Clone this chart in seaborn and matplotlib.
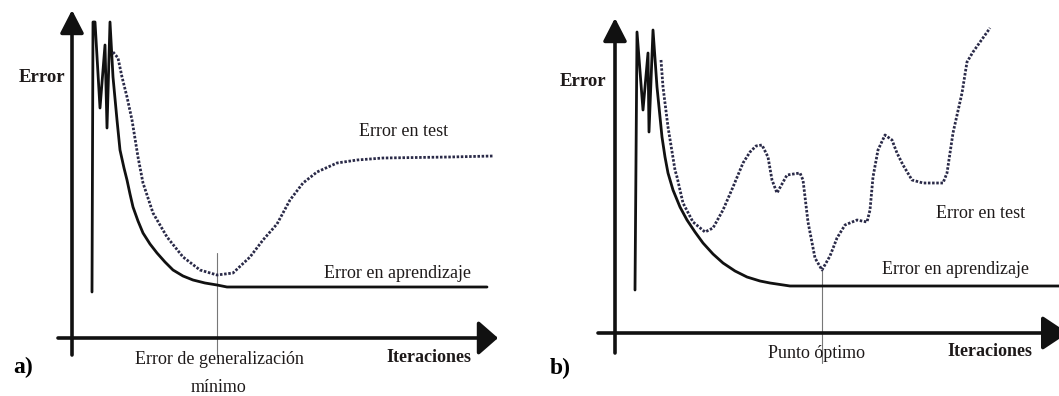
import matplotlib
matplotlib.use("Agg")
import matplotlib.pyplot as plt
import pandas as pd
import seaborn as sns

sns.set_theme(style="white")
plt.rcParams["font.family"] = ["Liberation Serif", "DejaVu Serif"]

# ---------------- panel a: training vs test error, classic overfitting ----------------
a_train_iter = [20, 21, 23, 28, 33, 35, 38, 41, 45, 48, 52, 55, 58, 61, 66, 71, 78, 85, 93,
                101, 111, 121, 133, 145, 155, 415]
a_train_err = [46, 316, 316, 230, 293, 210, 316, 261, 218, 188, 170, 158, 144, 131, 117, 105,
               94, 85, 76, 68, 62, 58, 55, 53, 51, 51]

a_test_iter = [41, 46, 50, 55, 60, 66, 71, 81, 95, 111, 128, 145, 161, 178, 191, 205,
               218, 231, 245, 265, 285, 311, 378, 421]
a_test_err = [286, 280, 261, 241, 218, 181, 155, 125, 101, 81, 68, 63, 65, 81, 98, 114,
              138, 155, 166, 175, 178, 180, 181, 182]

a_best_iter = 145

# ---------------- panel b: noisy test error with an optimal stopping point ----------------
b_train_iter = [20, 22, 28, 33, 34, 38, 42, 47, 50, 53, 58, 65, 72, 80, 88, 98, 108, 120,
                132, 145, 155, 175, 444]
b_train_err = [43, 301, 223, 280, 201, 303, 246, 196, 176, 160, 143, 126, 113, 101, 90, 79,
               70, 62, 56, 52, 50, 47, 47]

b_test_iter = [46, 48, 53, 60, 62, 68, 78, 90, 98, 108, 118, 128, 135, 141, 147, 153, 157,
               162, 167, 172, 185, 188, 193, 200, 207, 215, 222, 230, 242, 252, 255, 258,
               263, 270, 277, 282, 288, 297, 308, 328, 332, 338, 347, 352, 358, 375]
b_test_err = [273, 246, 206, 163, 156, 130, 111, 101, 105, 123, 146, 170, 181, 187, 188,
              176, 153, 140, 149, 158, 160, 153, 111, 75, 63, 77, 95, 108, 113, 111, 123,
              156, 183, 198, 193, 180, 168, 153, 150, 150, 160, 200, 240, 271, 281, 305]

b_best_iter = 207

W, H = 1059, 396
fig = plt.figure(figsize=(W / 100, H / 100), dpi=100)
fig.patch.set_facecolor("white")

ink = "#111111"
dots = "#2a2a48"
txt = "#1e1a1a"


def panel(ax, xlim, ylim, train_x, train_y, test_x, test_y, best_x, best_top, best_bottom,
          yaxis, xaxis, yhead, xhead):
    ax.set_xlim(*xlim)
    ax.set_ylim(*ylim)
    ax.axis("off")

    train = pd.DataFrame({"iteraciones": train_x, "error": train_y})
    test = pd.DataFrame({"iteraciones": test_x, "error": test_y})
    sns.lineplot(data=train, x="iteraciones", y="error", ax=ax, sort=False, estimator=None,
                 color=ink, lw=2.0, zorder=4, solid_joinstyle="round", solid_capstyle="round")
    sns.lineplot(data=test, x="iteraciones", y="error", ax=ax, sort=False, estimator=None,
                 color=dots, lw=2.0, linestyle=(0, (0.9, 0.6)), zorder=4,
                 dash_joinstyle="round")

    # thin marker at the minimum of the test error
    ax.plot([best_x, best_x], [best_top, best_bottom], color="#777777", lw=0.8, zorder=3)

    # axes drawn as arrows
    (y0, y1), (x0, x1) = yaxis, xaxis
    ax.annotate("", xy=(0, y1), xytext=(0, y0),
                arrowprops=dict(arrowstyle=f"-|>,head_length={yhead[0]},head_width={yhead[1]}",
                                color=ink, lw=2.6, shrinkA=0, shrinkB=0, mutation_scale=10),
                annotation_clip=False, zorder=5)
    ax.annotate("", xy=(x1, 0), xytext=(x0, 0),
                arrowprops=dict(arrowstyle=f"-|>,head_length={xhead[0]},head_width={xhead[1]}",
                                color=ink, lw=2.6, shrinkA=0, shrinkB=0, mutation_scale=10),
                annotation_clip=False, zorder=5)


ax_a = fig.add_axes([0, 0, 530 / W, 1])
panel(ax_a, (-72, 458), (-58, 338), a_train_iter, a_train_err, a_test_iter, a_test_err,
      a_best_iter, 85, -19, (-17, 328), (-14, 426), (1.4, 0.72), (1.2, 1.05))

ax_b = fig.add_axes([530 / W, 0, 529 / W, 1])
panel(ax_b, (-85, 444), (-63, 333), b_train_iter, b_train_err, b_test_iter, b_test_err,
      b_best_iter, 63, -30, (-20, 315), (-17, 453), (1.4, 0.72), (1.58, 1.05))

fs = 13
for ax, lab_err, lab_test, lab_train, lab_it in [
    (ax_a, (-30, 261), (332, 207), (325, 65), (357, -20)),
    (ax_b, (-32, 251), (366, 120), (340, 63), (375, -19)),
]:
    ax.text(*lab_err, "Error", ha="center", va="center", fontsize=13.5, fontweight="bold", color=txt)
    ax.text(*lab_test, "Error en test", ha="center", va="center", fontsize=fs, color=txt)
    ax.text(*lab_train, "Error en aprendizaje", ha="center", va="center", fontsize=fs, color=txt)
    ax.text(*lab_it, "Iteraciones", ha="center", va="center", fontsize=fs, fontweight="bold", color=txt)

ax_a.text(-49, -29, "a)", ha="center", va="center", fontsize=17, fontweight="bold", color="black")
ax_b.text(-55, -35, "b)", ha="center", va="center", fontsize=17, fontweight="bold", color="black")

ax_a.text(147, -22, "Error de generalización", ha="center", va="center", fontsize=fs, color=txt)
ax_a.text(147, -49, "mínimo", ha="center", va="center", fontsize=fs, color=txt)
ax_b.text(201, -20, "Punto óptimo", ha="center", va="center", fontsize=fs, color=txt)

fig.savefig("out.png", dpi=100, facecolor="white")
